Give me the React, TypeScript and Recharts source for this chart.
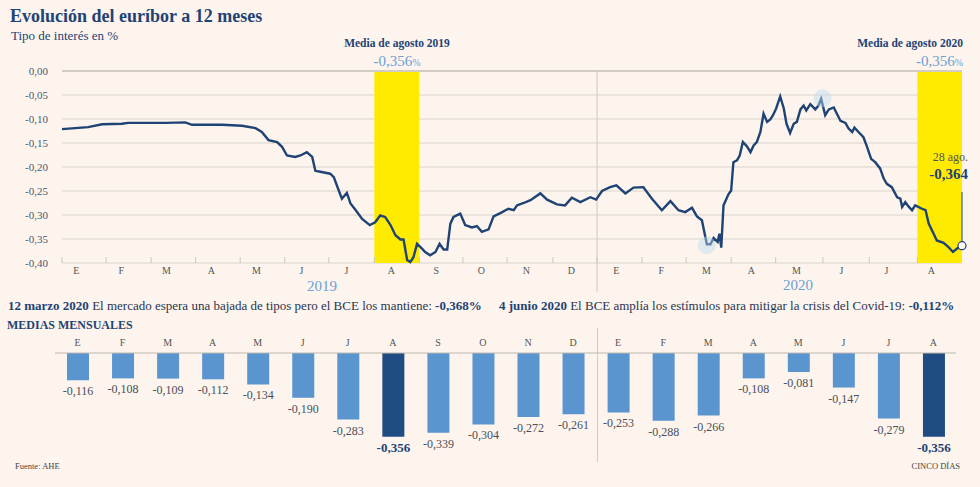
import React from "react";
import {
  LineChart, Line, XAxis, YAxis, CartesianGrid, ReferenceArea, ReferenceLine, ReferenceDot,
  BarChart, Bar, Cell, LabelList,
} from "recharts";

// meses (E = enero ...), 2019 + 2020
const months2019 = ["E", "F", "M", "A", "M", "J", "J", "A", "S", "O", "N", "D"];
const months2020 = ["E", "F", "M", "A", "M", "J", "J", "A"];
const monthLabels = [...months2019, ...months2020];

// medias mensuales del euríbor
const monthlyAvg = [
  -0.116, -0.108, -0.109, -0.112, -0.134, -0.19, -0.283, -0.356, -0.339, -0.304, -0.272, -0.261,
  -0.253, -0.288, -0.266, -0.108, -0.081, -0.147, -0.279, -0.356,
];
const highlightIdx = [7, 19];

// serie diaria (x = meses desde el 1 de enero de 2019)
const lineX = [
  0, 0.58, 0.89, 1.33, 1.47, 2.3, 2.74, 2.89, 3.56, 4.0, 4.3, 4.44, 4.59, 4.78, 4.89,
  5.0, 5.18, 5.3, 5.44, 5.56, 5.63, 5.74, 5.96, 6.04, 6.15, 6.22, 6.33, 6.41, 6.52, 6.67, 6.84,
  6.96, 7.07, 7.18, 7.3, 7.41, 7.52, 7.59, 7.67, 7.74, 7.81, 7.89, 8.0, 8.07, 8.18, 8.3, 8.39,
  8.48, 8.56, 8.63, 8.7, 8.85, 8.96, 9.11, 9.22, 9.33, 9.48, 9.59, 9.74, 9.92,
  10.04, 10.11, 10.26, 10.41, 10.63, 10.78, 11.0, 11.18, 11.33, 11.52, 11.74, 11.87,
  12.0, 12.18, 12.32, 12.52, 12.7, 12.92, 13.11, 13.33, 13.52, 13.7, 13.85, 14.0, 14.11, 14.22,
  14.33, 14.41, 14.48, 14.57, 14.61, 14.65, 14.7, 14.81, 14.87, 14.92, 15.0, 15.06, 15.13, 15.22,
  15.3, 15.37, 15.44, 15.52, 15.59, 15.67, 15.74, 15.8, 15.87, 15.96, 16.04, 16.1, 16.18, 16.26,
  16.33, 16.41, 16.48, 16.54, 16.63, 16.74, 16.81, 16.87, 16.96, 17.04, 17.15, 17.22, 17.3, 17.41,
  17.48, 17.56, 17.61, 17.7, 17.81, 17.89, 17.98, 18.07, 18.18, 18.26, 18.33, 18.44, 18.56, 18.63,
  18.67, 18.74, 18.81, 18.89, 18.96, 19.11, 19.19, 19.26, 19.37, 19.44, 19.59, 19.7, 19.8, 19.89, 20.0,
];
const lineY = [
  -0.121, -0.117, -0.111, -0.11, -0.108, -0.108, -0.107, -0.112, -0.112, -0.114, -0.119, -0.127, -0.144, -0.148, -0.158,
  -0.176, -0.179, -0.176, -0.169, -0.179, -0.208, -0.21, -0.214, -0.221, -0.249, -0.266, -0.254, -0.276, -0.289, -0.308, -0.321,
  -0.315, -0.301, -0.304, -0.321, -0.342, -0.351, -0.351, -0.394, -0.398, -0.388, -0.36, -0.37, -0.377, -0.384, -0.377, -0.36,
  -0.372, -0.372, -0.318, -0.304, -0.297, -0.321, -0.326, -0.323, -0.335, -0.33, -0.303, -0.296, -0.287,
  -0.29, -0.28, -0.275, -0.269, -0.255, -0.268, -0.278, -0.28, -0.264, -0.273, -0.263, -0.268,
  -0.25, -0.242, -0.238, -0.255, -0.243, -0.242, -0.266, -0.29, -0.271, -0.29, -0.294, -0.285, -0.303, -0.311,
  -0.361, -0.361, -0.348, -0.356, -0.339, -0.368, -0.28, -0.257, -0.249, -0.19, -0.186, -0.176, -0.148, -0.157,
  -0.169, -0.155, -0.148, -0.127, -0.089, -0.106, -0.101, -0.092, -0.078, -0.053, -0.078, -0.11, -0.129, -0.11,
  -0.106, -0.08, -0.072, -0.082, -0.069, -0.08, -0.072, -0.058, -0.092, -0.08, -0.076, -0.089, -0.104, -0.108,
  -0.12, -0.127, -0.118, -0.127, -0.138, -0.158, -0.183, -0.19, -0.203, -0.224, -0.235, -0.242, -0.263, -0.266,
  -0.283, -0.273, -0.282, -0.29, -0.28, -0.287, -0.29, -0.318, -0.339, -0.353, -0.358, -0.367, -0.377, -0.37, -0.364,
];

// inicio de cada mes en el eje (tal como está dibujado)
const monthStarts = [
  0, 0.98, 1.98, 2.97, 3.96, 4.95, 5.93, 6.94, 7.94, 8.91, 9.89, 10.91,
  11.89, 12.89, 13.87, 14.87, 15.86, 16.91, 17.94, 19.01,
];
const yTicks = [0, -0.05, -0.1, -0.15, -0.2, -0.25, -0.3, -0.35, -0.4];

const lineData = lineX.map((x, i) => ({ x, v: lineY[i] }));
const barData = monthlyAvg.map((v, i) => ({ m: monthLabels[i], v, hl: highlightIdx.includes(i) }));

const SERIF = '"Liberation Serif", "DejaVu Serif", serif';
const NAVY = "#1f4374";
const LIGHTBLUE = "#6e9fd4";
const GRID = "#e6dfd7";
const comma = (v: number, d: number) => v.toFixed(d).replace(".", ",");

function Txt({ x, y, size, children, bold, color = NAVY, anchor = "start", style }: any) {
  const tx = anchor === "middle" ? "-50%" : anchor === "end" ? "-100%" : "0";
  return (
    <div
      style={{
        position: "absolute", left: x, top: y - size / 2, fontSize: size, lineHeight: `${size}px`,
        fontWeight: bold ? 700 : 400, color, whiteSpace: "nowrap", transform: `translateX(${tx})`, ...style,
      }}
    >
      {children}
    </div>
  );
}

function BarValue(props: any) {
  const { x, y, width, height, value, index } = props;
  const bottom = Math.max(y, y + height);
  const hl = highlightIdx.includes(index);
  return (
    <text
      x={x + width / 2} y={bottom + 15} textAnchor="middle"
      fontSize={hl ? 13 : 12} fontWeight={hl ? 700 : 400} fill={hl ? NAVY : "#4a4f5a"} fontFamily={SERIF}
    >
      {comma(value, 3)}
    </text>
  );
}

export default function App() {
  return (
    <div style={{ position: "absolute", left: 0, top: 0, width: 980, height: 487, background: "#fcf4ed", fontFamily: SERIF, overflow: "hidden" }}>
      <Txt x={10} y={16} size={18} bold>Evolución del euríbor a 12 meses</Txt>
      <Txt x={11} y={35} size={13}>Tipo de interés en %</Txt>

      <Txt x={397} y={44} size={11.5} bold anchor="middle">Media de agosto 2019</Txt>
      <Txt x={397} y={61} size={15} color={LIGHTBLUE} anchor="middle">-0,356<span style={{ fontSize: 10 }}>%</span></Txt>
      <Txt x={963} y={44} size={11.5} bold anchor="end">Media de agosto 2020</Txt>
      <Txt x={963} y={61} size={15} color={LIGHTBLUE} anchor="end">-0,356<span style={{ fontSize: 10 }}>%</span></Txt>

      <div style={{ position: "absolute", left: 0, top: 0 }}>
        <LineChart width={980} height={300} data={lineData} margin={{ top: 71, right: 18, left: 0, bottom: 7 }}>
          <CartesianGrid vertical={false} stroke={GRID} strokeWidth={1.5} />
          <ReferenceArea x1={6.94} x2={7.94} y1={-0.4} y2={0} fill="#ffeb00" fillOpacity={1} stroke="none" />
          <ReferenceArea x1={19.01} x2={20} y1={-0.4} y2={0} fill="#ffeb00" fillOpacity={1} stroke="none" />
          <ReferenceLine y={0} stroke="#d2ccc5" strokeWidth={2} />
          <ReferenceLine
            segment={[{ x: 11.89, y: 0 }, { x: 11.89, y: -0.46 }]}
            ifOverflow="visible" stroke="#cdc7c0" strokeWidth={1}
          />
          {monthStarts.map((m) => (
            <ReferenceLine key={m} segment={[{ x: m, y: -0.4 }, { x: m, y: -0.3875 }]} stroke="#cdc7c0" strokeWidth={1} />
          ))}
          <XAxis
            type="number" dataKey="x" domain={[0, 20]} ticks={monthLabels.map((_, i) => i + 0.32)} interval={0}
            tickFormatter={(v: number) => monthLabels[Math.round(v - 0.32)]}
            tickLine={false} axisLine={false} tickSize={0} tickMargin={4} height={30}
            tick={{ fontSize: 10, fill: "#555", fontFamily: SERIF }}
          />
          <YAxis
            type="number" domain={[-0.4, 0]} ticks={yTicks} width={62}
            tickFormatter={(v: number) => (v === 0 ? "0,00" : comma(v, 2))}
            tickLine={false} axisLine={false} tickSize={0} tickMargin={14}
            tick={{ fontSize: 11, fill: "#4b5870", fontFamily: SERIF }}
          />
          <ReferenceDot x={14.33} y={-0.363} r={9} fill="#bcdcef" fillOpacity={0.45} stroke="none" />
          <ReferenceDot x={16.9} y={-0.057} r={9} fill="#bcdcef" fillOpacity={0.45} stroke="none" />
          <ReferenceLine segment={[{ x: 20, y: -0.252 }, { x: 20, y: -0.364 }]} stroke={NAVY} strokeWidth={1} />
          <Line type="linear" dataKey="v" stroke={NAVY} strokeWidth={2.4} dot={false} isAnimationActive={false} />
          <ReferenceDot x={20} y={-0.364} r={4} fill="#fff" stroke={NAVY} strokeWidth={1.2} />
        </LineChart>
      </div>

      <Txt x={322} y={286} size={15} color={LIGHTBLUE} anchor="middle">2019</Txt>
      <Txt x={798} y={285} size={15} color={LIGHTBLUE} anchor="middle">2020</Txt>
      <Txt x={968} y={157} size={12} color="#555" anchor="end">28 ago.</Txt>
      <Txt x={968} y={174} size={15} bold anchor="end">-0,364</Txt>

      <Txt x={8} y={305} size={13} color="#2a3550"><b style={{ color: NAVY }}>12 marzo 2020</b> El mercado espera una bajada de tipos pero el BCE los mantiene: <b style={{ color: NAVY }}>-0,368%</b></Txt>
      <Txt x={499} y={305} size={13} color="#2a3550"><b style={{ color: NAVY }}>4 junio 2020</b> El BCE amplía los estímulos para mitigar la crisis del Covid-19: <b style={{ color: NAVY }}>-0,112%</b></Txt>
      <Txt x={7} y={325} size={12} bold>MEDIAS MENSUALES</Txt>

      <div style={{ position: "absolute", left: 597, top: 328, width: 1, height: 134, background: "#d3cdc6" }} />
      <div style={{ position: "absolute", left: 0, top: 300 }}>
        <BarChart width={980} height={180} data={barData} margin={{ top: 33, right: 24, left: 55, bottom: 33 }}>
          <XAxis
            dataKey="m" orientation="top" height={20} interval={0} tickLine={false} tickSize={0} tickMargin={7}
            axisLine={{ stroke: "#bdb7b0", strokeWidth: 1.2 }}
            tick={{ fontSize: 10, fill: "#555", fontFamily: SERIF }}
          />
          <YAxis hide domain={[-0.4, 0]} />
          <Bar dataKey="v" barSize={22} isAnimationActive={false}>
            {barData.map((d, i) => (
              <Cell key={i} fill={d.hl ? "#1f4c82" : "#5b95cf"} />
            ))}
            <LabelList dataKey="v" content={<BarValue />} />
          </Bar>
        </BarChart>
      </div>

      <Txt x={15} y={466} size={8.5} color="#444">Fuente: AHE</Txt>
      <Txt x={960} y={466} size={8.5} color="#444" anchor="end">CINCO DÍAS</Txt>
    </div>
  );
}
